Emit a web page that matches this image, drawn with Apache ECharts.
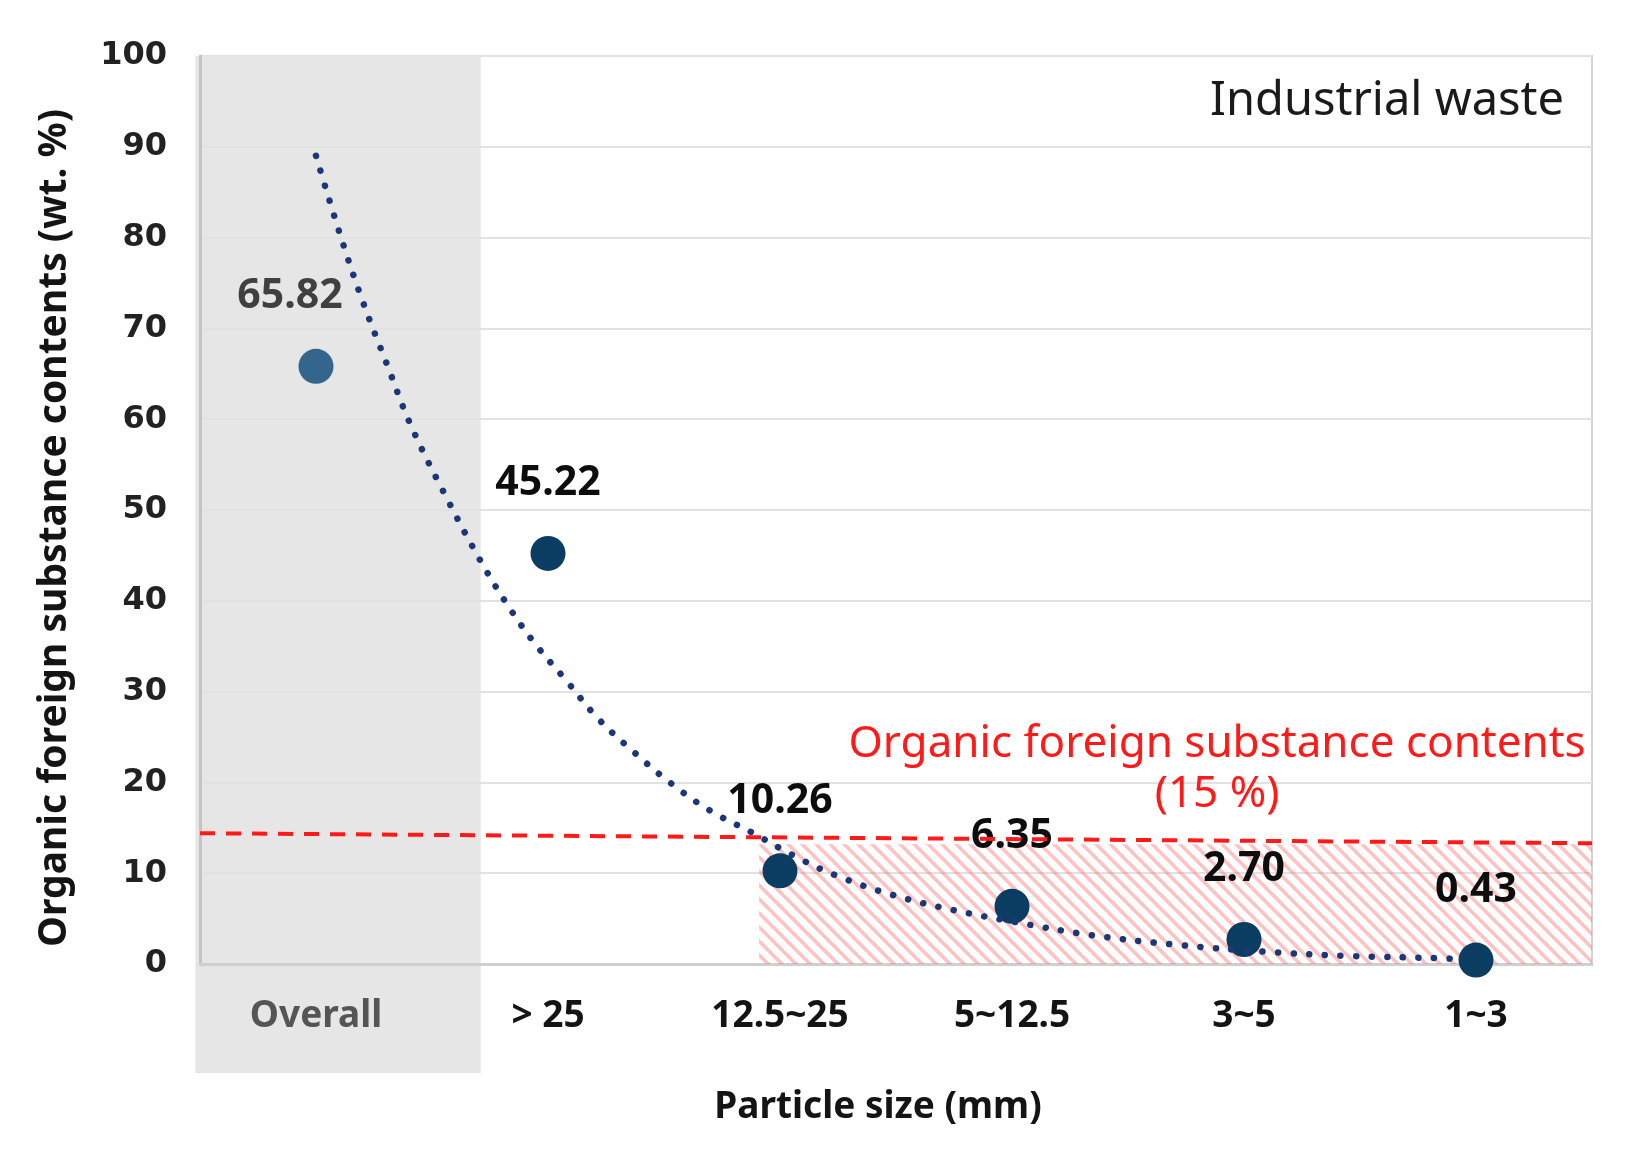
<!DOCTYPE html>
<html><head><meta charset="utf-8">
<script src="https://cdn.jsdelivr.net/npm/echarts@6/dist/echarts.min.js"></script>
<style>html,body{margin:0;padding:0;background:#fff}#c{width:1633px;height:1160px}</style>
</head><body><div id="c"></div>
<script>
// ---- data ----
const categories = ['Overall', '> 25', '12.5~25', '5~12.5', '3~5', '1~3'];
const contents = [65.82, 45.22, 10.26, 6.35, 2.70, 0.43];
const yTicks = [0, 10, 20, 30, 40, 50, 60, 70, 80, 90, 100];
// dotted trend curve (x = category position, 0 = Overall)
const trendX = [0, 0.108, 0.201, 0.305, 0.411, 0.570, 0.707, 0.819, 0.940, 1.076, 1.217, 1.372, 1.530, 1.698, 1.885, 2.054, 2.237, 2.486, 2.747, 3.004, 3.340, 3.724, 4.097, 4.457, 4.858, 4.93];
const trendY = [89.0, 80.0, 73.0, 66.1, 59.2, 51.0, 44.5, 39.8, 35.4, 31.3, 27.0, 23.3, 19.9, 16.9, 14.4, 12.0, 9.8, 7.6, 5.94, 4.66, 3.19, 2.09, 1.35, 0.88, 0.63, 0.5];
// red dashed limit line (15 %) endpoints as drawn
const limitX = [-0.5, 5.5];
const limitY = [14.4, 13.3];
const limitText = 'Organic foreign substance contents\n(15 %)';
// hatched "below limit" area
const hatchX = [1.91, 5.5];
const hatchY = [0, 13.2];
const panelTitle = 'Industrial waste';
const xTitle = 'Particle size (mm)';
const yTitle = 'Organic foreign substance contents (wt. %)';

// hatch pattern
function makeHatch() {
  const s = 14, c = document.createElement('canvas');
  c.width = s; c.height = s;
  const g = c.getContext('2d');
  g.strokeStyle = 'rgba(255,110,110,0.42)';
  g.lineWidth = 3.5;
  for (const k of [-s, 0, s]) {
    g.beginPath(); g.moveTo(k - 2, -2); g.lineTo(k + s + 2, s + 2); g.stroke();
  }
  return c;
}

const chart = echarts.init(document.getElementById('c'));
const labelFont = 'Noto Sans';

const scatterData = contents.map((v, i) => ({
  value: v,
  itemStyle: { color: i === 0 ? '#33658d' : '#0b3d63', opacity: 1 },
  label: i === 0 ? { offset: [-26, 0], color: '#404040' } : {}
}));

chart.setOption({
  animation: false,
  backgroundColor: '#ffffff',
  grid: { left: 200, right: 41, top: 56, bottom: 196, show: true, borderColor: '#d4d4d4', borderWidth: 2, backgroundColor: 'transparent' },
  title: {
    text: panelTitle, right: 64, top: 73,
    textStyle: { fontFamily: labelFont, fontWeight: 'normal', fontSize: 47, color: '#1a1a1a' }
  },
  xAxis: [{
    type: 'category', data: categories, boundaryGap: true,
    axisTick: { show: false },
    axisLine: { show: true, lineStyle: { color: '#cfcfcf', width: 3 } },
    axisLabel: {
      margin: 34, fontFamily: labelFont, fontSize: 37, fontWeight: 'bold',
      color: (v, i) => (i === 0 ? '#555555' : '#141414')
    },
    name: xTitle, nameLocation: 'middle', nameGap: 125,
    nameTextStyle: { fontFamily: labelFont, fontSize: 37, fontWeight: 'bold', color: '#141414', padding: [0, 36, 0, 0] }
  }, {
    type: 'value', min: -0.5, max: 5.5, show: false
  }],
  yAxis: {
    type: 'value', min: 0, max: 100, interval: 10,
    axisLine: { show: true, onZero: false, lineStyle: { color: '#c4c4c4', width: 3 } },
    axisTick: { show: false },
    splitLine: { lineStyle: { color: '#e2e2e2', width: 2 } },
    axisLabel: {
      margin: 33, fontFamily: 'DejaVu Sans', fontWeight: 'bold', fontSize: 32, color: '#222222',
      formatter: v => (yTicks.includes(v) ? String(v) : '')
    },
    name: yTitle, nameLocation: 'middle', nameGap: 126,
    nameTextStyle: { fontFamily: labelFont, fontSize: 39, fontWeight: 'bold', color: '#141414', padding: [0, 36, 0, 0] }
  },
  series: [{
    name: 'contents', type: 'scatter', xAxisIndex: 0, yAxisIndex: 0, z: 2,
    symbolSize: 35, data: scatterData,
    itemStyle: { opacity: 1 },
    label: {
      show: true, position: 'top', distance: 32,
      fontFamily: labelFont, fontWeight: 'bold', fontSize: 41, color: '#0d0d0d',
      formatter: p => contents[p.dataIndex].toFixed(2)
    }
  }, {
    name: 'hatch', type: 'line', xAxisIndex: 1, yAxisIndex: 0, z: 3, data: [],
    markArea: {
      silent: true,
      itemStyle: { color: { image: makeHatch(), repeat: 'repeat' } },
      data: [[{ coord: [hatchX[0], hatchY[0]] }, { coord: [hatchX[1], hatchY[1]] }]]
    }
  }, {
    name: 'trend', type: 'line', xAxisIndex: 1, yAxisIndex: 0, z: 4,
    smooth: 0.4, showSymbol: false, symbol: 'none',
    data: trendX.map((x, i) => [x, trendY[i]]),
    lineStyle: { color: '#1b3777', width: 6.5, type: [0.1, 15.5], cap: 'round' }
  }, {
    name: 'limit', type: 'line', xAxisIndex: 1, yAxisIndex: 0, z: 5, data: [],
    markLine: {
      silent: true, symbol: 'none', label: { show: false },
      lineStyle: { color: '#ff1a1a', width: 4, type: [15, 11] },
      data: [[{ coord: [limitX[0], limitY[0]] }, { coord: [limitX[1], limitY[1]] }]]
    }
  }]
});

// decorations positioned through the chart's own scales
const px = v => chart.convertToPixel({ xAxisIndex: 1 }, v);
const py = v => chart.convertToPixel({ yAxisIndex: 0 }, v);
const bandL = px(-0.52), bandR = px(0.71);
const bandT = py(100), bandB = py(0) + 109;
chart.setOption({
  graphic: [{
    type: 'rect', z: -10, silent: true,
    shape: { x: bandL, y: bandT, width: bandR - bandL, height: bandB - bandT },
    style: { fill: '#e6e6e6' }
  }, {
    type: 'text', z: 10, silent: true,
    x: px(3.884), y: py(21.45),
    style: {
      text: limitText, fill: '#ff1a1a', font: 'normal 44px "Noto Sans"',
      align: 'center', verticalAlign: 'middle', lineHeight: 50
    }
  }]
});
</script>
</body></html>
